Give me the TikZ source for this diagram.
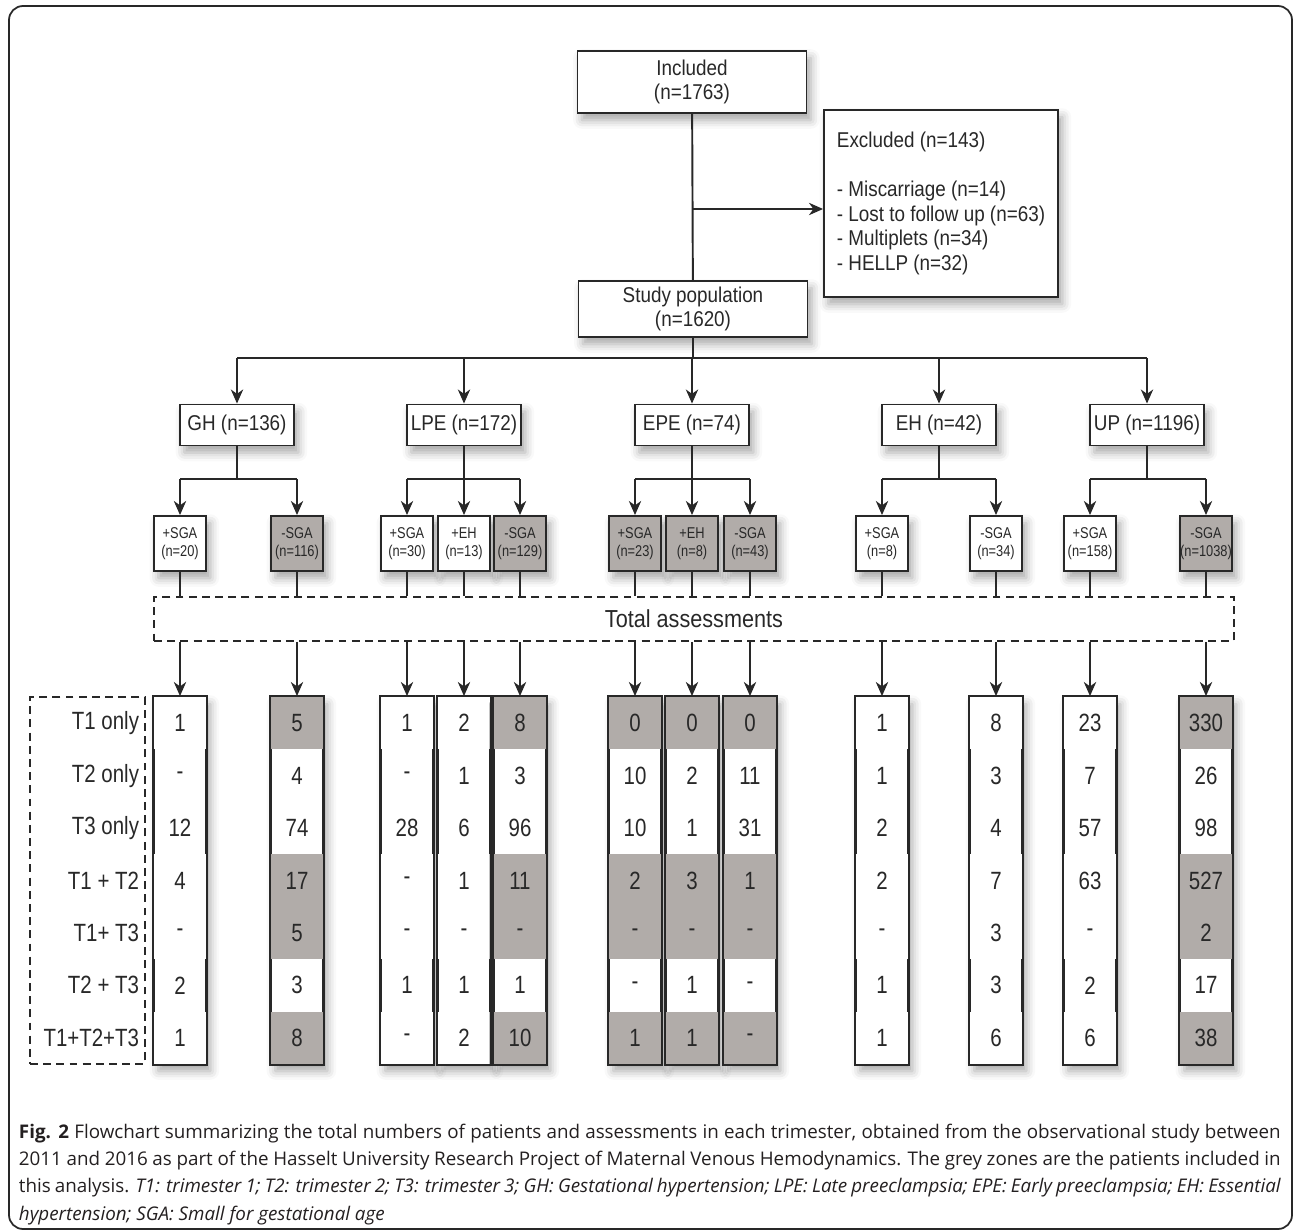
\documentclass[tikz,border=0pt]{standalone}
\usepackage{fontspec}
\setmainfont{Liberation Sans}[FakeStretch=0.88]
\newfontfamily\narrowfont{Liberation Sans}[FakeStretch=0.82]
\newfontfamily\capfont{Open Sans}
\usetikzlibrary{arrows.meta,shadows.blur}
\definecolor{inkgrey}{RGB}{40,40,40}
\definecolor{zonegrey}{RGB}{177,172,169}
\definecolor{captext}{RGB}{35,31,32}

\begin{document}
\begin{tikzpicture}[x=0.02cm, y=-0.02cm, color=inkgrey, line width=1.1pt,
  box/.style={draw, fill=white, inner sep=0pt, align=center,
    blur shadow={shadow xshift=2.5pt, shadow yshift=-4pt, shadow blur radius=5pt, shadow opacity=35}},
  headbox/.style={box, minimum width=4.58cm, minimum height=1.12cm, font=\fontsize{12.2}{13.9}\selectfont},
  groupbox/.style={box, minimum width=2.28cm, minimum height=0.82cm, font=\fontsize{12.2}{13}\selectfont},
  subbox/.style={box, minimum width=1.04cm, minimum height=1.1cm, font=\narrowfont\fontsize{8.9}{10.2}\selectfont},
  colbox/.style={box, minimum width=1.04cm, minimum height=7.34cm},
  dashbox/.style={draw, dash pattern=on 4.5pt off 3pt, line width=0.9pt, inner sep=0pt},
  cell/.style={inner sep=0pt, font=\narrowfont\fontsize{14.2}{16}\selectfont},
  arr/.style={-{Stealth[length=8pt, width=7pt, inset=2.5pt]}}]
  \useasboundingbox (0,0) rectangle (1295,1230);
  \draw[line width=1pt, rounded corners=8pt] (9,6) rectangle (1292,1229);

  % top of the chart
  \node[headbox, minimum height=1.24cm] (included) at (692,82) {Included\\(n=1763)};
  \node[box, minimum width=4.68cm, minimum height=3.74cm, align=left,
    font=\fontsize{12.2}{13.9}\selectfont] (excluded) at (941,203.5)
    {Excluded (n=143)\\[13.9pt]- Miscarriage (n=14)\\- Lost to follow up (n=63)\\- Multiplets (n=34)\\- HELLP (n=32)};
  \node[headbox] (study) at (693,309) {Study population\\(n=1620)};

  \coordinate (exsplit) at (693,209);
  \coordinate (bus) at (0,358);
  \coordinate (split) at (0,479);
  \draw (included) -- (study);
  \draw[arr] (exsplit) -- (exsplit -| excluded.west);

  % groups
  \foreach \g/\x/\t in {gh/237/GH (n=136), lpe/464/LPE (n=172), epe/692/EPE (n=74),
                        eh/939/EH (n=42), up/1147/UP (n=1196)}
    \node[groupbox] (\g) at (\x,425) {\t};
  \draw (study.south) -- (study.south |- bus);
  \draw (gh.north |- bus) -- (up.north |- bus);
  \foreach \g in {gh,lpe,epe,eh,up}
    \draw[arr] (\g.north |- bus) -- (\g.north);

  % subgroups
  \foreach \s/\x/\f/\t in {s1/180/white/{+SGA\\(n=20)}, s2/297/zonegrey/{-SGA\\(n=116)},
      s3/407/white/{+SGA\\(n=30)}, s4/464/white/{+EH\\(n=13)}, s5/520/zonegrey/{-SGA\\(n=129)},
      s6/635/zonegrey/{+SGA\\(n=23)}, s7/692/zonegrey/{+EH\\(n=8)}, s8/750/zonegrey/{-SGA\\(n=43)},
      s9/882/white/{+SGA\\(n=8)}, s10/996/white/{-SGA\\(n=34)},
      s11/1090/white/{+SGA\\(n=158)}, s12/1206/zonegrey/{-SGA\\(n=1038)}}
    \node[subbox, fill=\f] (\s) at (\x,543.5) {\t};
  \foreach \g/\a/\b in {gh/s1/s2, lpe/s3/s5, epe/s6/s8, eh/s9/s10, up/s11/s12} {
    \draw (\g.south) -- (\g.south |- split);
    \draw (\a.north |- split) -- (\b.north |- split);
  }
  \foreach \i in {1,...,12}
    \draw[arr] (s\i.north |- split) -- (s\i.north);

  \node[dashbox, minimum width=21.6cm, minimum height=0.88cm, font=\fontsize{14}{16}\selectfont]
    (total) at (694,619) {Total assessments};
  \foreach \i in {1,...,12}
    \draw (s\i.south) -- (s\i.south |- total.north);

  % trimester rows
  \node[dashbox, minimum width=2.3cm, minimum height=7.34cm] (rowlab) at (87.5,880.5) {};
  \foreach \t [count=\r] in {T1 only, T2 only, T3 only, T1 + T2, T1+ T3, T2 + T3, T1+T2+T3}
    \node[cell, anchor=east] (lab\r) at (140,{697+(\r-0.5)*52.43}) {\t};

  % assessment columns
  \foreach \c/\x/\f/\vals in {c1/180/white/{1,-,12,4,-,2,1}, c2/297/zonegrey/{5,4,74,17,5,3,8},
      c3/407/white/{1,-,28,-,-,1,-}, c4/464/white/{2,1,6,1,-,1,2}, c5/520/zonegrey/{8,3,96,11,-,1,10},
      c6/635/zonegrey/{0,10,10,2,-,-,1}, c7/692/zonegrey/{0,2,1,3,-,1,1}, c8/750/zonegrey/{0,11,31,1,-,-,-},
      c9/882/white/{1,1,2,2,-,1,1}, c10/996/white/{8,3,4,7,3,3,6},
      c11/1090/white/{23,7,57,63,-,2,6}, c12/1206/zonegrey/{330,26,98,527,2,17,38}} {
    \node[colbox] (\c) at (\x,880.5) {};
    \foreach \r in {1,4,5,7}
      \fill[\f] (\x-26,{697+(\r-1)*52.43}) rectangle (\x+26,{697+\r*52.43});
    \draw (\c.north west) rectangle (\c.south east);
    \foreach \v [count=\r] in \vals
      \node[cell] (\c-\r) at (\x,{697+(\r-0.5)*52.43}) {\v};
  }
  \foreach \i in {1,...,12}
    \draw[arr] (c\i.north |- total.south) -- (c\i.north);

  % caption
  \node[anchor=north west, text width=25.24cm, align=justify, inner sep=0pt, text=captext,
    font=\capfont\fontsize{10.7}{15.5}\selectfont] (caption) at (18,1123)
    {\textbf{Fig. 2} Flowchart summarizing the total numbers of patients and assessments in each trimester, obtained from the observational study between 2011 and 2016 as part of the Hasselt University Research Project of Maternal Venous Hemodynamics. The grey zones are the patients included in this analysis. \textit{T1: trimester 1; T2: trimester 2; T3: trimester 3; GH: Gestational hypertension; LPE: Late preeclampsia; EPE: Early preeclampsia; EH: Essential hypertension; SGA: Small for gestational age}};
\end{tikzpicture}
\end{document}
